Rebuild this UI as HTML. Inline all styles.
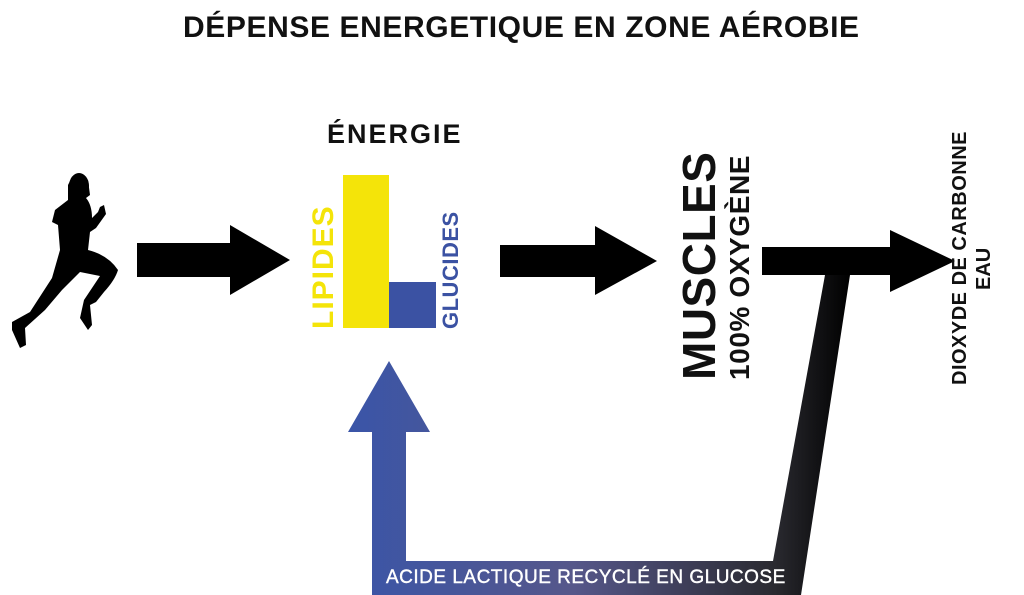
<!DOCTYPE html>
<html><head><meta charset="utf-8"><style>
body{margin:0;width:1024px;height:595px;background:#fff;overflow:hidden;position:relative;font-family:"Liberation Sans",sans-serif;font-weight:bold}
.t{position:absolute;white-space:nowrap}
.r{position:absolute;transform:rotate(-90deg);transform-origin:left top;white-space:nowrap}
</style></head><body>
<svg width="1024" height="595" style="position:absolute;left:0;top:0">
<defs>
<linearGradient id="g" x1="0" x2="1" y1="0" y2="0">
<stop offset="0" stop-color="#3a55a8"/><stop offset="0.45" stop-color="#56578a"/><stop offset="0.85" stop-color="#2a2a30"/><stop offset="1" stop-color="#000"/>
</linearGradient>
</defs>
<path d="M372,595 L372,432 L348,432 L389,361 L430,432 L406,432 L406,561 L773,561 L825,275 L850,275 L801,595 Z" fill="url(#g)"/>
<path d="M137,243 L230,243 L230,225 L290,260 L230,295 L230,277 L137,277 Z" fill="#000"/>
<path d="M500,245 L595,245 L595,226 L657,261 L595,295 L595,277 L500,277 Z" fill="#000"/>
<path d="M762,247 L890,247 L890,230 L955,261 L890,292 L890,275 L762,275 Z" fill="#000"/>
<rect x="343" y="175" width="46" height="153" fill="#f4e409"/>
<rect x="389" y="282" width="47" height="46" fill="#3b52a3"/>
<ellipse cx="79" cy="186" rx="10" ry="13" fill="#000"/>
<path d="M72,177 Q80,172 88,180 L90,195 L86,198 Q92,205 92,218 L98,212 L100,207 L104,205 L106,214 L96,228 L90,232 L88,250 Q108,255 118,270 Q115,280 104,292 L96,302 L90,305 L92,325 L88,330 L80,318 L84,300 L100,276 L80,272 L62,290 L45,310 L25,328 L26,345 L20,348 L12,330 L12,322 L30,312 L52,278 L60,250 L58,225 L52,222 L55,210 L68,200 L68,185 Z" fill="#000"/>
</svg>
<div class="t" style="left:183px;top:11px;font-size:30px;letter-spacing:0.6px;color:#111">DÉPENSE ENERGETIQUE EN ZONE AÉROBIE</div>
<div class="t" style="left:327px;top:119px;font-size:27px;letter-spacing:2px;color:#111">ÉNERGIE</div>
<div class="r" style="left:307px;top:329px;font-size:30px;letter-spacing:1px;color:#f4e409">LIPIDES</div>
<div class="r" style="left:438px;top:329px;font-size:22px;letter-spacing:0.5px;color:#3b52a3">GLUCIDES</div>
<div class="r" style="left:672px;top:380px;font-size:46px;letter-spacing:0.5px;color:#111">MUSCLES</div>
<div class="r" style="left:724px;top:380px;font-size:28px;letter-spacing:0.6px;color:#111">100% OXYGÈNE</div>
<div class="r" style="left:949px;top:385px;font-size:20px;letter-spacing:0.5px;color:#111">DIOXYDE DE CARBONNE</div>
<div class="r" style="left:973px;top:290px;font-size:20px;color:#111">EAU</div>
<div class="t" style="left:386px;top:567px;font-size:19px;letter-spacing:0.5px;color:#fff;font-weight:normal;-webkit-text-stroke:0.4px #fff">ACIDE LACTIQUE RECYCLÉ EN GLUCOSE</div>
</body></html>
